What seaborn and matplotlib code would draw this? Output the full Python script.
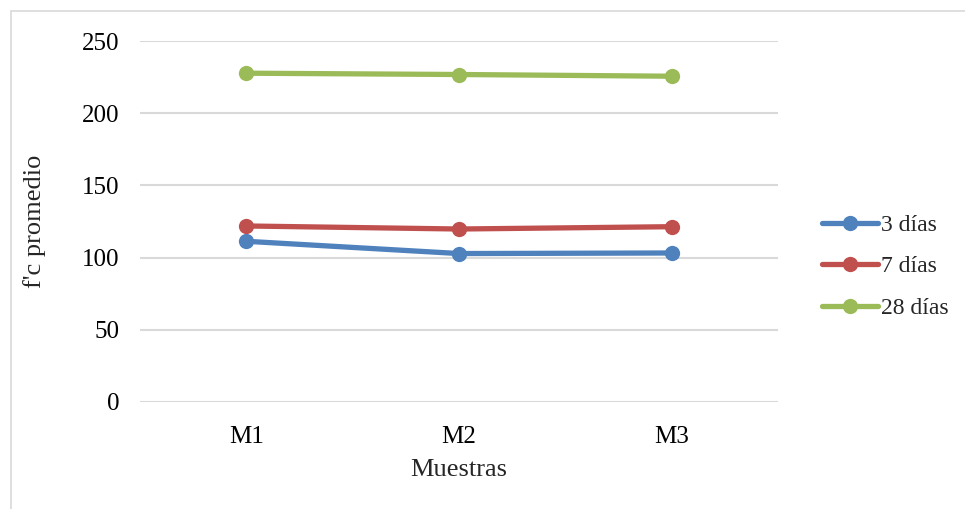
import pandas as pd
import matplotlib.pyplot as plt
import seaborn as sns
from matplotlib.patches import Rectangle

# -------------------------------
# Data
# -------------------------------
muestras = ["M1", "M2", "M3"]
dias_3 = [111.3, 102.8, 103.2]
dias_7 = [121.9, 119.8, 121.4]
dias_28 = [227.7, 226.8, 225.6]
series = ["3 días", "7 días", "28 días"]
colores = ["#4F81BD", "#C0504D", "#9BBB59"]

df = pd.DataFrame({
    "Muestras": muestras * 3,
    "fc": dias_3 + dias_7 + dias_28,
    "Edad": [s for s in series for _ in muestras],
})

sns.set_style("white")
plt.rcParams["font.family"] = ["Liberation Serif", "DejaVu Serif"]

# -------------------------------
# Plot
# -------------------------------
fig = plt.figure(figsize=(9.65, 5.09), dpi=100)
ax = fig.add_axes([140 / 965, 107 / 509, 638 / 965, 361 / 509])

sns.lineplot(
    data=df, x="Muestras", y="fc", hue="Edad",
    palette=colores, hue_order=series,
    marker="o", markersize=11, markeredgewidth=0,
    linewidth=3.8, ax=ax, sort=False,
)

ax.set_xlim(-0.5, 2.5)
ax.set_ylim(0, 250)
ax.set_yticks([0, 50, 100, 150, 200, 250])
ax.grid(axis="y", color="#D9D9D9", linewidth=1.5)
ax.set_axisbelow(True)
for s in ax.spines.values():
    s.set_visible(False)
ax.tick_params(axis="both", length=0, labelsize=18, colors="black")
ax.tick_params(axis="y", pad=15)
ax.tick_params(axis="x", pad=17)
ax.set_xlabel("Muestras", fontsize=19, labelpad=8)
ax.set_ylabel("f'c promedio", fontsize=19, labelpad=26)

ax.legend(
    loc="center left", bbox_to_anchor=(1.035, 0.375), frameon=False,
    fontsize=17, handlelength=2.4, handletextpad=0.1,
    labelspacing=0.85,
)

# chart border
fig.patches.append(Rectangle(
    (11 / 965, -0.05), 1.1, (509 - 11) / 509 + 0.05,
    transform=fig.transFigure, fill=False, edgecolor="#D9D9D9",
    linewidth=1.2, clip_on=False,
))

plt.savefig("out.png", dpi=100)
plt.close()
